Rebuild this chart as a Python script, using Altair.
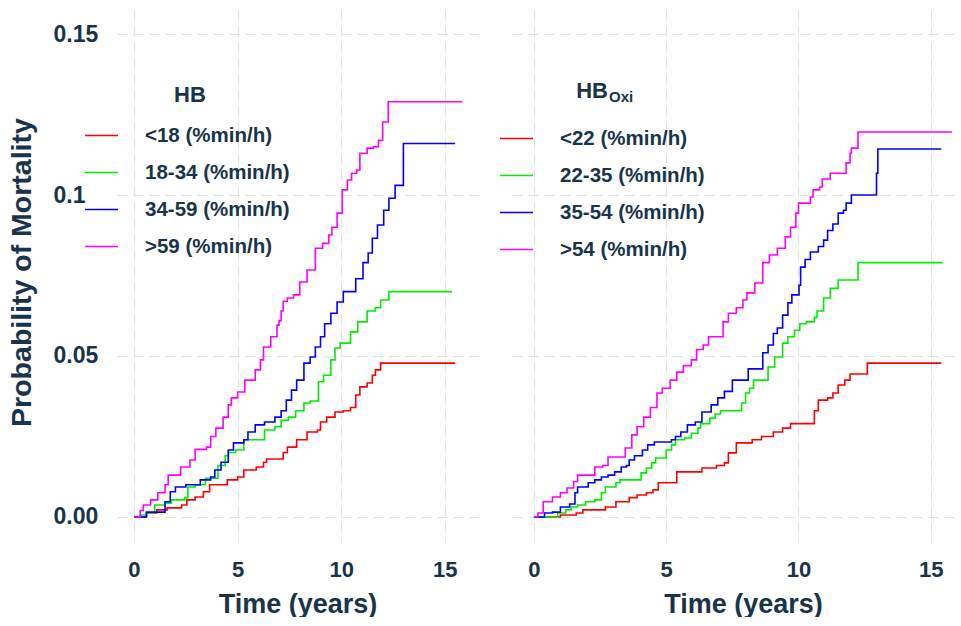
import altair as alt
import pandas as pd

NAVY = "#19344A"
FONT = "Liberation Sans"
COLORS = ["#FF0000", "#00EE00", "#0000FF", "#FF00FF"]

HB_LABELS = ["<18 (%min/h)", "18-34 (%min/h)", "34-59 (%min/h)", ">59 (%min/h)"]
OXI_LABELS = ["<22 (%min/h)", "22-35 (%min/h)", "35-54 (%min/h)", ">54 (%min/h)"]

X_TICKS = [0, 5, 10, 15]
Y_TICKS = [0, 0.05, 0.1, 0.15]
Y_TICK_LABELS = ["0.00", "0.05", "0.1", "0.15"]

# ---- HB panel ----
HB1_T = [0, 0.6, 1.1, 1.6, 2.3, 2.55, 2.95, 3.35, 3.65, 4.5, 5.0, 5.3, 5.9, 6.25, 6.4, 7.2, 7.4, 7.85, 8.35, 8.85,
         9.0, 9.3, 9.7, 10.1, 10.45, 10.7, 10.9, 11.25, 11.5, 11.65, 11.9, 15.5]
HB1_V = [0, .0012, .0022, .0028, .0037, .0053, .0062, .0078, .010, .0115, .0124, .0146, .0155, .017, .018, .020, .0217,
         .024, .0264, .027, .0295, .031, .0326, .033, .034, .0379, .0404, .0416, .044, .0457, .0478, .0478]

HB2_T = [0, 0.3, 0.6, 1.0, 1.5, 1.8, 2.45, 2.6, 2.95, 3.45, 4.05, 4.4, 4.55, 4.9, 5.3, 6.3, 6.8, 7.1, 7.45, 7.8,
         8.2, 8.5, 8.9, 9.15, 9.5, 9.7, 9.95, 10.45, 10.8, 11.25, 11.65, 11.9, 12.3, 15.35]
HB2_V = [0, .0006, .0012, .0037, .0043, .0053, .006, .0093, .010, .012, .016, .019, .020, .0208, .024, .027, .028, .030,
         .031, .033, .0354, .036, .042, .044, .0488, .0525, .054, .0575, .0606, .064, .065, .0674, .070, .070]

HB3_T = [0, 0.6, 1.5, 1.75, 2.0, 2.5, 3.2, 3.7, 3.9, 4.2, 4.55, 4.8, 5.3, 5.5, 5.85, 6.3, 6.8, 7.1, 7.35, 7.6,
         7.85, 8.2, 8.5, 8.75, 9.0, 9.2, 9.5, 9.8, 10.1, 10.7, 11.05, 11.3, 11.5, 11.75, 12.05, 12.3, 12.6, 13.0, 15.5]
HB3_V = [0, .0015, .0047, .0078, .0093, .010, .0115, .0124, .0146, .017, .0208, .023, .024, .0264, .0286, .0295, .031,
         .033, .0363, .0394, .0425, .0478, .0497, .0528, .056, .060, .0633, .0668, .070, .074, .079, .082, .0866, .0907,
         .0953, .099, .103, .116, .116]

HB4_T = [0, 0.3, 0.45, 0.8, 1.15, 1.5, 1.65, 2.25, 2.7, 2.95, 3.5, 3.7, 3.95, 4.3, 4.55, 4.7, 5.0, 5.35, 5.85, 6.1,
         6.25, 6.6, 6.9, 7.0, 7.1, 7.2, 7.4, 7.7, 8.0, 8.35, 8.75, 9.1, 9.4, 9.55, 9.8, 10.05, 10.3, 10.5, 10.75, 10.9,
         11.25, 11.55, 11.8, 12.0, 12.27, 15.85]
HB4_V = [0, .002, .0037, .0053, .0075, .010, .013, .0155, .0177, .021, .0217, .025, .0276, .031, .0348, .037, .0388,
         .0425, .0457, .0488, .0528, .056, .0596, .061, .064, .067, .068, .069, .073, .0767, .0835, .085, .0876, .090,
         .0944, .1016, .1047, .1068, .1078, .113, .1146, .115, .117, .1227, .129, .129]

# ---- HB_Oxi panel ----
OX1_T = [0, 1.0, 1.6, 1.85, 2.7, 3.1, 3.6, 3.9, 4.25, 4.5, 4.7, 5.4, 6.35, 6.9, 7.2, 7.35, 7.65, 8.25, 8.6, 9.05,
         9.4, 9.7, 10.6, 10.75, 11.1, 11.3, 11.5, 11.75, 11.95, 12.6, 15.4]
OX1_V = [0, .0006, .0012, .0022, .0031, .0047, .006, .0068, .0075, .0084, .0106, .014, .0152, .016, .0168, .0199, .023,
         .024, .025, .0264, .0276, .029, .033, .0363, .037, .0385, .041, .0425, .0444, .0478, .0478]

OX2_T = [0, 0.9, 1.2, 1.4, 1.65, 1.95, 2.3, 2.55, 2.7, 3.1, 3.25, 4.05, 4.25, 4.45, 4.6, 5.0, 5.2, 5.35, 5.7, 5.95,
         6.2, 6.3, 6.65, 6.85, 7.05, 7.85, 8.0, 8.15, 8.3, 8.85, 9.1, 9.4, 9.6, 9.85, 10.05, 10.3, 10.6, 10.7, 10.95,
         11.2, 11.5, 12.25, 15.45]
OX2_V = [0, .0012, .0022, .0031, .0037, .0047, .0053, .0075, .0093, .0106, .0115, .0137, .0152, .0168, .0183, .0208,
         .0224, .024, .0245, .026, .0276, .029, .0307, .032, .033, .0354, .0385, .040, .0425, .0466, .0497, .054, .056,
         .058, .060, .0606, .062, .064, .068, .071, .0736, .079, .079]

OX3_T = [0, 0.4, 0.7, 1.0, 1.35, 1.55, 1.65, 2.05, 2.3, 2.55, 2.8, 3.05, 3.3, 3.5, 3.6, 3.8, 4.1, 4.3, 4.55, 5.2,
         5.35, 5.55, 5.8, 6.1, 6.35, 6.7, 6.95, 7.2, 7.5, 8.1, 8.65, 8.85, 9.05, 9.2, 9.4, 9.6, 9.75, 10.02, 10.08,
         10.25, 10.45, 10.75, 10.95, 11.1, 11.3, 11.5, 11.7, 11.8, 12.0, 12.95, 13.0, 15.4]
OX3_V = [0, .0012, .0015, .0031, .004, .0075, .0093, .0106, .0115, .0124, .013, .014, .0155, .016, .0177, .019, .0208,
         .0224, .0233, .024, .025, .0264, .0286, .0295, .0326, .0348, .037, .039, .0425, .046, .051, .0534, .057, .0587,
         .0627, .0665, .069, .072, .0776, .080, .0823, .084, .086, .089, .091, .0944, .0953, .0975, .100, .1068, .1143,
         .1143]

OX4_T = [0, 0.15, 0.35, 0.7, 1.0, 1.25, 1.5, 1.65, 2.3, 2.6, 2.8, 3.45, 3.7, 3.9, 4.15, 4.4, 4.65, 4.85, 5.15, 5.4,
         5.65, 5.95, 6.15, 6.4, 6.6, 7.15, 7.35, 7.65, 7.9, 8.05, 8.35, 8.65, 8.9, 9.2, 9.5, 9.7, 9.9, 10.0, 10.45,
         10.55, 10.8, 10.9, 11.2, 11.8, 11.95, 12.0, 12.25, 15.8]
OX4_V = [0, .0012, .0047, .0062, .0075, .009, .011, .013, .0155, .016, .0186, .0214, .0255, .028, .031, .034, .0385,
         .040, .0425, .045, .047, .0488, .052, .0534, .056, .0606, .0633, .065, .0674, .0696, .0727, .079, .0814, .0835,
         .087, .090, .0944, .0975, .0994, .1016, .1025, .105, .1068, .11, .113, .1146, .1196, .1196]


def frame(labels, series):
    rows = []
    for lab, (ts, vs) in zip(labels, series):
        for i, (t, v) in enumerate(zip(ts, vs)):
            rows.append({"grp": lab, "t": t, "v": v, "o": i})
    return pd.DataFrame(rows)


hb_df = frame(HB_LABELS, [(HB1_T, HB1_V), (HB2_T, HB2_V), (HB3_T, HB3_V), (HB4_T, HB4_V)])
ox_df = frame(OXI_LABELS, [(OX1_T, OX1_V), (OX2_T, OX2_V), (OX3_T, OX3_V), (OX4_T, OX4_V)])

y_expr = " : ".join(
    f"abs(datum.value - {v}) < 1e-6 ? '{lab}'" for v, lab in zip(Y_TICKS, Y_TICK_LABELS)
) + " : datum.label"

Y_DOMAIN = [-0.0081, 0.1575]
HEIGHT = 533
GRID = dict(grid=True, gridColor="#E2E2E2", gridDash=[10, 6], gridWidth=1)


def x_axis(title_x=None):
    kw = dict(values=X_TICKS, title="Time (years)", titleFont=FONT, titleFontSize=27, titleFontWeight="bold",
              titleColor=NAVY, titlePadding=11, labelFont=FONT, labelFontSize=22, labelFontWeight="bold",
              labelColor=NAVY, labelPadding=16, domain=False, ticks=False, tickSize=0, **GRID)
    if title_x is not None:
        kw["titleX"] = title_x
    return alt.Axis(**kw)


def legend(lx, ly):
    return alt.Legend(orient="none", legendX=lx, legendY=ly, title=None, symbolType="stroke", symbolSize=1089,
                      symbolStrokeWidth=1.5, labelFont=FONT, labelFontSize=20.5, labelFontWeight="bold",
                      labelColor=NAVY, labelOffset=26, rowPadding=9, labelLimit=400, padding=0)


def lines(df, labels, width, xdom, yaxis, leg, title_x=None):
    return alt.Chart(df).mark_line(interpolate="step-after", strokeWidth=1.6, clip=True).encode(
        x=alt.X("t:Q", scale=alt.Scale(domain=xdom, nice=False, zero=False), axis=x_axis(title_x)),
        y=alt.Y("v:Q", scale=alt.Scale(domain=Y_DOMAIN, nice=False, zero=False), axis=yaxis),
        color=alt.Color("grp:N", scale=alt.Scale(domain=labels, range=COLORS), legend=leg),
        order=alt.Order("o:Q"),
    )


left_yaxis = alt.Axis(values=Y_TICKS, labelExpr=y_expr, title="Probability of Mortality", titleFont=FONT,
                      titleFontSize=28.5, titleFontWeight="bold", titleColor=NAVY, titlePadding=17, titleY=262,
                      labelFont=FONT, labelFontSize=23, labelFontWeight="bold", labelColor=NAVY,
                      labelAlign="left", labelBaseline="middle", labelPadding=64, domain=False, ticks=False,
                      tickSize=0, **GRID)
right_yaxis = alt.Axis(values=Y_TICKS, labels=False, title=None, domain=False, ticks=False, tickSize=0, **GRID)

left_lines = lines(hb_df, HB_LABELS, 361, [-0.82, 16.6], left_yaxis, legend(-33, 108))
right_lines = lines(ox_df, OXI_LABELS, 446, [-0.83, 16.03], right_yaxis, legend(-13, 111), title_x=231)

hb_title = alt.Chart(pd.DataFrame({"txt": ["HB"]})).mark_text(
    font=FONT, fontSize=22, fontWeight="bold", color=NAVY, align="center", baseline="middle"
).encode(x=alt.value(73), y=alt.value(85), text="txt:N")

ox_title_main = alt.Chart(pd.DataFrame({"txt": ["HB"]})).mark_text(
    font=FONT, fontSize=22, fontWeight="bold", color=NAVY, align="right", baseline="middle"
).encode(x=alt.value(96), y=alt.value(80.5), text="txt:N")

ox_title_sub = alt.Chart(pd.DataFrame({"txt": ["Oxi"]})).mark_text(
    font=FONT, fontSize=15, fontWeight="bold", color=NAVY, align="left", baseline="alphabetic"
).encode(x=alt.value(97), y=alt.value(91.5), text="txt:N")

left = alt.layer(left_lines, hb_title).properties(width=361, height=HEIGHT)
right = alt.layer(right_lines, ox_title_main, ox_title_sub).properties(width=446, height=HEIGHT)

chart = alt.hconcat(left, right, spacing=34, bounds="flush").resolve_scale(
    color="independent"
).properties(
    padding={"left": 7, "top": 10, "right": 0, "bottom": 0},
    background="white",
).configure_view(strokeWidth=0)

chart.save("out.html", embed_options={"renderer": "svg", "actions": False})
